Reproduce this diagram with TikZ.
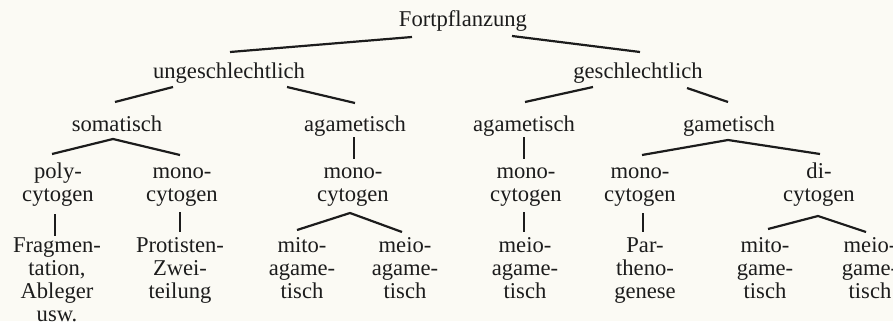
\documentclass[tikz,border=0pt]{standalone}
\usepackage{fontspec}
\setmainfont{Liberation Serif}
\usepackage{tikz}
\usetikzlibrary{arrows.meta}
\definecolor{bgcream}{HTML}{FBFAF4}
\definecolor{inkblack}{HTML}{1C1C1C}
\tikzset{
	lbl/.style={font=\fontsize{22.6}{23}\selectfont, align=center, inner sep=0pt, anchor=base, text=inkblack},
	branch/.style={line width=2.2pt, draw=inkblack}
}
\begin{document}
\begin{tikzpicture}[x=1pt,y=1pt]

	% Draw background
	\fill[bgcream] (0,0) rectangle (893,-321);
	\useasboundingbox (0,0) rectangle (893,-321);

	% Draw labels (base = last line)
	\node[lbl] (root) at (463,-27) {Fortpflanzung};
	\node[lbl] (ung) at (229,-78) {ungeschlechtlich};
	\node[lbl] (ges) at (638,-78) {geschlechtlich};
	\node[lbl] (som) at (117,-131) {somatisch};
	\node[lbl] (agaL) at (355,-131) {agametisch};
	\node[lbl] (agaR) at (524,-131) {agametisch};
	\node[lbl] (gam) at (729,-131) {gametisch};
	\node[lbl] (poly) at (58,-201) {poly-\\cytogen};
	\node[lbl] (monoA) at (182,-201) {mono-\\cytogen};
	\node[lbl] (monoB) at (353,-201) {mono-\\cytogen};
	\node[lbl] (monoC) at (526,-201) {mono-\\cytogen};
	\node[lbl] (monoD) at (640,-201) {mono-\\cytogen};
	\node[lbl] (di) at (819,-201) {di-\\cytogen};
	\node[lbl] (frag) at (57,-321) {Fragmen-\\tation,\\Ableger\\usw.};
	\node[lbl] (prot) at (180,-298) {Protisten-\\Zwei-\\teilung};
	\node[lbl] (mitoA) at (302,-298) {mito-\\agame-\\tisch};
	\node[lbl] (meioA) at (405,-298) {meio-\\agame-\\tisch};
	\node[lbl] (meioB) at (525,-298) {meio-\\agame-\\tisch};
	\node[lbl] (parth) at (645,-298) {Par-\\theno-\\genese};
	\node[lbl] (mitoB) at (765,-298) {mito-\\game-\\tisch};
	\node[lbl] (meioC) at (870,-298) {meio-\\game-\\tisch};

	% Draw branches, first levels
	\draw[branch] ([shift={(-51,-10)}]root.base) -- ([shift={(1,26)}]ung.base);
	\draw[branch] ([shift={(49,-9)}]root.base) -- ([shift={(2,26)}]ges.base);
	\draw[branch] ([shift={(-56,-9)}]ung.base) -- ([shift={(-2,29)}]som.base);
	\draw[branch] ([shift={(58,-9)}]ung.base) -- ([shift={(0,28)}]agaL.base);
	\draw[branch] ([shift={(-45,-9)}]ges.base) -- ([shift={(1,29)}]agaR.base);
	\draw[branch] ([shift={(49,-10)}]ges.base) -- ([shift={(-1,29)}]gam.base);

	% Draw branches to cytogen
	\draw[branch] ([shift={(-6,47)}]poly.base) -- ([shift={(-4,-8)}]som.base) -- ([shift={(-2,46)}]monoA.base);
	\draw[branch] ([shift={(-1,-6)}]agaL.base) -- ([shift={(1,42)}]monoB.base);
	\draw[branch] ([shift={(0,-6)}]agaR.base) -- ([shift={(-2,42)}]monoC.base);
	\draw[branch] ([shift={(2,46)}]monoD.base) -- ([shift={(-1,-9)}]gam.base) -- ([shift={(1,47)}]di.base);

	% Draw branches to last level
	\draw[branch] ([shift={(-3,-13)}]poly.base) -- ([shift={(-2,85)}]frag.base);
	\draw[branch] ([shift={(-2,-11)}]monoA.base) -- ([shift={(0,66)}]prot.base);
	\draw[branch] ([shift={(-5,68)}]mitoA.base) -- ([shift={(-3,-12)}]monoB.base) -- ([shift={(-3,66)}]meioA.base);
	\draw[branch] ([shift={(-2,-11)}]monoC.base) -- ([shift={(-1,66)}]meioB.base);
	\draw[branch] ([shift={(3,-12)}]monoD.base) -- ([shift={(-2,66)}]parth.base);
	\draw[branch] ([shift={(3,69)}]mitoB.base) -- ([shift={(-1,-15)}]di.base) -- ([shift={(-4,66)}]meioC.base);

\end{tikzpicture}
\end{document}
